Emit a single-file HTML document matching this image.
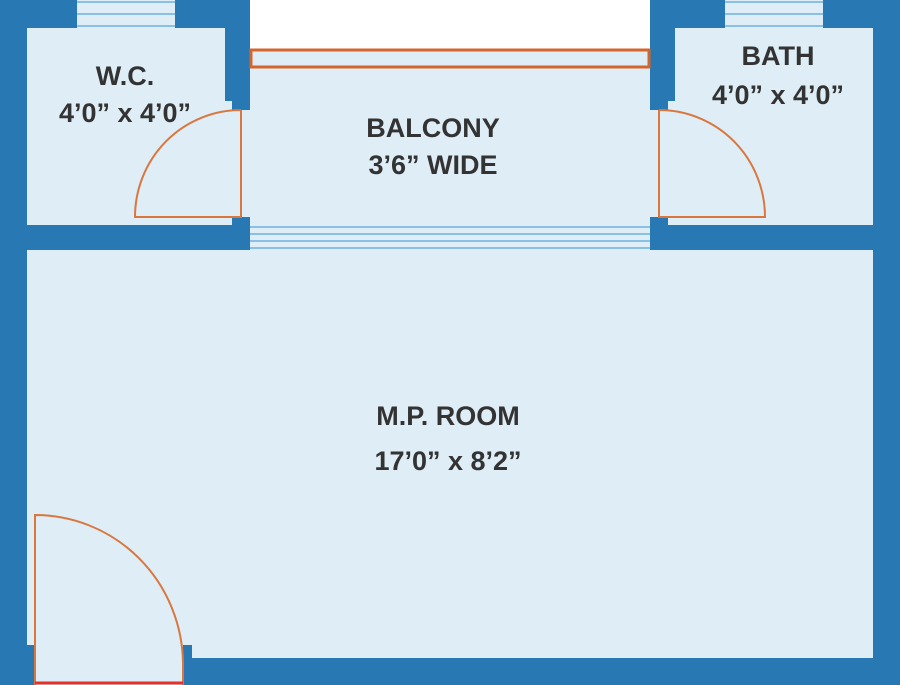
<!DOCTYPE html>
<html><head><style>
body{margin:0;background:#fff}
svg{display:block}
text{font-family:"Liberation Sans",sans-serif;font-weight:bold;fill:#333;text-anchor:middle;font-size:27px}
</style></head><body>
<svg width="900" height="685" viewBox="0 0 900 685">
<rect x="0" y="0" width="900" height="685" fill="#fff"/>
<!-- light fills -->
<rect x="27" y="28" width="223" height="197" fill="#deedf6"/>
<rect x="650" y="28" width="223" height="197" fill="#deedf6"/>
<rect x="250" y="50" width="400" height="200" fill="#deedf6"/>
<rect x="27" y="250" width="846" height="435" fill="#deedf6"/>
<!-- windows top -->
<rect x="77" y="0" width="98" height="28" fill="#deedf6"/>
<rect x="725" y="0" width="98" height="28" fill="#deedf6"/>
<g stroke="#6fb2e0" stroke-width="1.5">
<line x1="77" y1="2" x2="175" y2="2"/><line x1="77" y1="14" x2="175" y2="14"/><line x1="77" y1="26" x2="175" y2="26"/>
<line x1="725" y1="2" x2="823" y2="2"/><line x1="725" y1="14" x2="823" y2="14"/><line x1="725" y1="26" x2="823" y2="26"/>
<line x1="250" y1="227" x2="650" y2="227"/><line x1="250" y1="234" x2="650" y2="234"/><line x1="250" y1="241" x2="650" y2="241"/><line x1="250" y1="248" x2="650" y2="248"/>
</g>
<!-- walls -->
<g fill="#2878b4">
<rect x="0" y="0" width="27" height="685"/>
<rect x="0" y="0" width="77" height="28"/>
<rect x="175" y="0" width="75" height="28"/>
<rect x="225" y="0" width="25" height="101"/>
<rect x="232" y="101" width="18" height="9"/>
<rect x="0" y="225" width="250" height="25"/>
<rect x="232" y="217" width="18" height="8"/>
<rect x="650" y="0" width="75" height="28"/>
<rect x="823" y="0" width="77" height="28"/>
<rect x="650" y="0" width="25" height="101"/>
<rect x="650" y="101" width="18" height="9"/>
<rect x="650" y="225" width="250" height="25"/>
<rect x="650" y="217" width="18" height="8"/>
<rect x="873" y="0" width="27" height="685"/>
<rect x="192" y="658" width="681" height="27"/>
<rect x="27" y="645" width="8" height="40"/>
<rect x="183" y="645" width="9" height="40"/>
</g>
<!-- balcony rail -->
<rect x="251" y="50" width="398" height="17" fill="#deedf6" stroke="#d4662c" stroke-width="3"/>
<!-- doors -->
<g fill="none" stroke="#d9773f" stroke-width="2">
<path d="M241 110 V217 H135 A106 107 0 0 1 241 110"/>
<path d="M659 110 V217 H765 A106 107 0 0 0 659 110"/>
<path d="M35 685 V515 A148 150 0 0 1 183 663 V685"/>
</g>
<line x1="35" y1="683" x2="183" y2="683" stroke="#e8302a" stroke-width="3"/>
<!-- labels -->
<text x="125" y="85">W.C.</text>
<text x="125" y="122">4’0” x 4’0”</text>
<text x="433" y="137">BALCONY</text>
<text x="433" y="174">3’6” WIDE</text>
<text x="778" y="65">BATH</text>
<text x="778" y="104">4’0” x 4’0”</text>
<text x="448" y="425">M.P. ROOM</text>
<text x="448" y="470">17’0” x 8’2”</text>
</svg>
</body></html>
